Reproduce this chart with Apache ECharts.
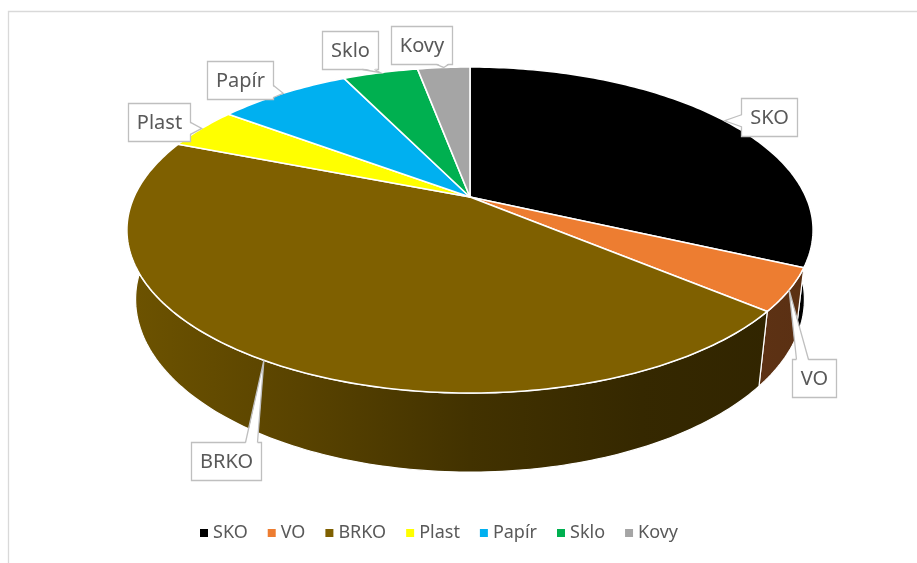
<!DOCTYPE html>
<html>
<head>
<meta charset="utf-8">
<title>Odpady</title>
<script src="https://cdn.jsdelivr.net/npm/echarts@6/dist/echarts.min.js"></script>
<style>
    html, body { margin: 0; padding: 0; background: #fff; }
    #chart { width: 917px; height: 563px; }
</style>
</head>
<body>
<div id="chart"></div>
<script>
var categories = ['SKO', 'VO', 'BRKO', 'Plast', 'Papír', 'Sklo', 'Kovy'];
var shares = [31.8, 4.2, 44.9, 4.2, 7.6, 4.3, 3.0];
var colors = ['#000000', '#ED7D31', '#7F6000', '#FFFF00', '#00B0F0', '#00B050', '#A5A5A5'];
// where each callout box sits, relative to its slice's rim point
var labelOffsets = [[44, -4], [25, 88], [-38, 101], [-43, -6], [-43, -13], [-30, -23], [-22, -22]];

var FONT = 'Noto Sans';
var LABEL_SIZE = 20;
var CX = 470, CY = 197, R = 336;        // pie centre and radius on screen
var SIN_T = 0.4653, COS_T = 0.8852;     // tilt of the pie (x rotation)
var DIST = 4.37;                        // perspective distance, in radii
var DEPTH = 0.235;                      // height of the pie, in radii

var total = shares.reduce(function (a, b) { return a + b; }, 0);
var measure = document.createElement('canvas').getContext('2d');
measure.font = LABEL_SIZE + 'px "' + FONT + '"';

// t: angle clockwise from the far side, z: 0 top, -DEPTH bottom
function proj(t, z) {
    var X = Math.sin(t), Y = Math.cos(t);
    var up = Y * SIN_T + z * COS_T;
    var d = Y * COS_T - z * SIN_T;
    var k = DIST / (DIST + d);
    return [CX + R * X * k, CY - R * up * k];
}

function shade(hex, f) {
    var n = parseInt(hex.slice(1), 16);
    var r = Math.round(((n >> 16) & 255) * f);
    var g = Math.round(((n >> 8) & 255) * f);
    var b = Math.round((n & 255) * f);
    return 'rgb(' + r + ',' + g + ',' + b + ')';
}

function wallFill(hex) {
    return {
        type: 'linear', global: true,
        x: CX - R * 1.02, y: 0, x2: CX + R * 1.02, y2: 0,
        colorStops: [
            {offset: 0, color: shade(hex, 0.86)},
            {offset: 0.25, color: shade(hex, 0.70)},
            {offset: 0.5, color: shade(hex, 0.52)},
            {offset: 0.75, color: shade(hex, 0.42)},
            {offset: 1, color: shade(hex, 0.38)}
        ]
    };
}

function renderSlice(params, api) {
    var i = params.seriesIndex;
    var start = 0;
    for (var j = 0; j < i; j++) start += shares[j];
    var a0 = start / total * Math.PI * 2;
    var a1 = (start + api.value(0)) / total * Math.PI * 2;
    var steps = Math.max(2, Math.ceil((a1 - a0) / (Math.PI / 180)));
    var topArc = [], bottomArc = [];
    for (var s = 0; s <= steps; s++) {
        var t = a0 + (a1 - a0) * s / steps;
        topArc.push(proj(t, 0));
        bottomArc.push(proj(t, -DEPTH));
    }
    var children = [];

    // side wall
    children.push({
        type: 'polygon', z2: 1,
        shape: {points: topArc.concat(bottomArc.slice().reverse())},
        style: {fill: wallFill(colors[i]), stroke: '#ffffff', lineWidth: 1.2, lineJoin: 'round'}
    });
    // top face
    children.push({
        type: 'polygon', z2: 5,
        shape: {points: [[CX, CY]].concat(topArc)},
        style: {fill: colors[i], stroke: '#ffffff', lineWidth: 1.6, lineJoin: 'round'}
    });

    // callout label
    var anchor = proj((a0 + a1) / 2, 0);
    var name = categories[i];
    var w = Math.round(measure.measureText(name).width) + 17, h = 38;
    var bx = Math.round(anchor[0] + labelOffsets[i][0] - w / 2) + 0.5;
    var by = Math.round(anchor[1] + labelOffsets[i][1] - h / 2) + 0.5;
    var dx = Math.max(bx - anchor[0], anchor[0] - (bx + w), 0);
    var dy = Math.max(by - anchor[1], anchor[1] - (by + h), 0);
    var b1, b2, i1, i2, c;
    if (dy > dx) {
        var ey = anchor[1] < by ? by : by + h;
        var iy = anchor[1] < by ? by + 1.5 : by + h - 1.5;
        c = Math.min(Math.max(anchor[0], bx + 10), bx + w - 10);
        b1 = [c - 6, ey]; b2 = [c + 6, ey]; i1 = [c - 6, iy]; i2 = [c + 6, iy];
    } else {
        var ex = anchor[0] < bx ? bx : bx + w;
        var ix = anchor[0] < bx ? bx + 1.5 : bx + w - 1.5;
        c = Math.min(Math.max(anchor[1], by + 8), by + h - 8);
        b1 = [ex, c - 6]; b2 = [ex, c + 6]; i1 = [ix, c - 6]; i2 = [ix, c + 6];
    }
    children.push({
        type: 'rect', z2: 20,
        shape: {x: bx, y: by, width: w, height: h},
        style: {fill: '#ffffff', stroke: '#bfbfbf', lineWidth: 1.3}
    });
    children.push({
        type: 'polygon', z2: 21,
        shape: {points: [i1, anchor, i2]},
        style: {fill: '#ffffff'}
    });
    children.push({
        type: 'polyline', z2: 22,
        shape: {points: [b1, anchor, b2]},
        style: {stroke: '#bfbfbf', lineWidth: 1.3, fill: null}
    });
    children.push({
        type: 'text', z2: 23,
        style: {
            text: name, x: bx + w / 2, y: by + h / 2 + 1,
            align: 'center', verticalAlign: 'middle',
            fill: '#595959', font: LABEL_SIZE + 'px "' + FONT + '"'
        }
    });
    return {type: 'group', children: children};
}

var series = [];
for (var i = 0; i < categories.length; i++) {
    series.push({
        type: 'custom',
        name: categories[i],
        coordinateSystem: 'none',
        itemStyle: {color: colors[i]},
        data: [[shares[i]]],
        renderItem: renderSlice
    });
}

var myChart = echarts.init(document.getElementById('chart'));
var option = {
    animation: false,
    color: colors,
    graphic: [{
        type: 'rect', z: -10,
        shape: {x: 8.5, y: 11.5, width: 1200, height: 1200},
        style: {fill: 'none', stroke: '#d9d9d9', lineWidth: 1.3}
    }],
    legend: {
        data: categories,
        left: 195,
        top: 519,
        icon: 'rect',
        itemWidth: 8,
        itemHeight: 8,
        itemGap: 20,
        selectedMode: false,
        textStyle: {fontFamily: FONT, fontSize: 18, color: '#595959'}
    },
    series: series
};
myChart.setOption(option);
</script>
</body>
</html>
